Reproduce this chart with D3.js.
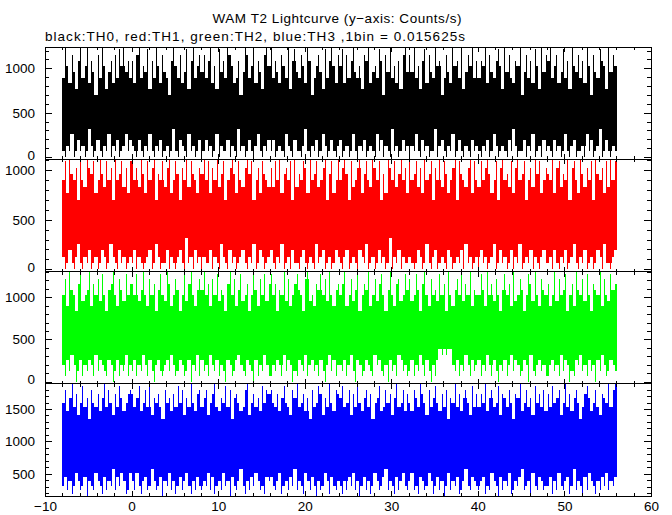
<!DOCTYPE html>
<html><head><meta charset="utf-8">
<script src="https://cdn.jsdelivr.net/npm/d3@7"></script>
<style>
html,body{margin:0;padding:0;background:#fff;}
text{font-family:"Liberation Sans",Arial,Helvetica,sans-serif;}
</style></head>
<body><svg id="c" width="672" height="515"></svg>
<script>
// Light curve envelopes: max / min counts per 1/64 s bin, in 0.25 s groups
const binSize = 0.015625;      // seconds per bin
const tStart = -8, step = 0.25;
const xTicksMajor = [-10,0,10,20,30,40,50,60];
const titleText = "WAM T2 Lightcurve (y\u2212axis: Counts/s)";
const subText = "black:TH0, red:TH1, green:TH2, blue:TH3 ,1bin = 0.015625s";
const seriesNames = ["TH0","TH1","TH2","TH3"];
const seriesColors = ["#000000","#ff0000","#00ff00","#0000ff"];
const yTickLabels = [[0,500,1000],[0,500,1000],[0,500,1000],[500,1000,1500]];
const yDomains = [[-24.3,1240.3],[-21.8,1109.8],[-25.6,1305.6],[158.7,1889.3]];

const hi1 = [14,20,16,13,18,15,12,17,19,14,16,20,13,17,15,11,18,14,20,16,12,15,17,13,18,14,19,16,20,15,17,14,
17,13,18,20,14,16,15,19,12,17,14,20,16,13,18,15,14,11,17,20,16,14,18,13,15,19,12,17,20,14,16,18,
15,18,14,17,20,13,16,12,19,15,17,14,20,18,16,13,14,17,11,15,20,18,14,16,19,13,17,15,12,18,20,16,
20,14,17,15,13,18,16,14,20,12,17,19,15,14,18,16,13,20,17,11,14,16,18,15,12,19,14,17,20,16,13,18,
16,19,13,18,14,17,20,15,14,16,12,18,17,20,13,15,16,14,19,17,11,18,15,20,14,16,13,17,12,18,20,15,
18,15,20,14,16,12,17,19,13,18,15,14,20,16,17,11,14,18,15,13,20,16,17,14,19,12,15,18,16,20,14,17,
14,17,16,20,13,18,15,14,17,19,16,12,20,15,18,14,13,17,16,20,11,15,18,14,17,13,19,16,12,20,15,18,
17,20,14,16,18,13,15,19,14,17,12,20,16,15,18,14,17,13,20,16,11,18,15,14,19,17,16,12,20,15,18,16];
const lo1 = [1,0,2,1,4,0,1,3,1,2,0,1,5,2,0,1,3,1,0,2,1,4,0,2,1,3,0,1,2,4,1,3,
2,1,0,3,1,0,2,1,4,1,0,2,1,3,0,1,2,0,1,5,1,0,3,2,1,0,4,1,2,0,1,3,
0,1,3,1,2,0,1,4,0,2,1,1,3,0,2,1,0,5,1,2,0,1,3,1,0,2,4,1,0,2,1,3,
1,3,0,1,2,1,0,4,2,1,0,3,1,1,0,2,5,1,0,2,1,3,0,1,4,2,0,1,3,1,0,2,
3,0,1,2,0,1,4,1,0,2,1,3,0,1,2,1,0,4,1,3,0,2,1,0,5,1,2,0,1,3,1,2,
0,2,1,4,1,0,3,1,2,0,1,1,5,0,2,3,1,0,2,1,4,0,1,3,1,0,2,1,0,3,1,2,
1,0,2,1,3,0,1,4,2,0,1,2,1,0,3,1,5,2,0,1,1,3,0,2,1,4,0,1,2,0,3,1,
2,1,0,3,1,2,0,1,4,1,0,2,3,0,1,1,2,0,4,1,3,0,1,2,5,0,1,3,1,0,2,1];

const hi2 = [14,17,12,18,15,14,16,11,17,14,13,18,16,15,17,12,14,18,15,13,17,14,16,11,18,14,15,17,13,16,12,17,
17,14,16,13,18,15,12,17,14,16,18,11,15,14,17,13,16,18,12,14,17,15,11,16,14,18,13,17,15,14,12,16,
15,18,14,17,12,16,14,18,13,15,17,11,14,16,18,15,12,17,14,13,16,18,15,17,11,14,16,12,17,15,14,13,
16,13,17,14,18,12,15,16,14,17,11,18,13,15,14,17,16,12,18,14,15,17,13,14,16,18,11,15,17,12,14,18,
14,16,18,15,11,17,13,14,16,18,12,15,17,14,13,18,16,14,17,11,15,12,18,16,14,17,13,15,18,14,16,12,
18,14,15,17,13,16,12,18,14,15,17,11,16,14,18,13,17,15,12,14,16,18,11,17,15,14,13,16,18,12,17,14,
13,17,14,16,18,15,12,14,17,11,16,18,14,15,13,17,12,16,18,14,15,17,11,14,16,13,18,15,17,12,14,16,
15,14,18,12,16,17,13,15,14,18,11,16,17,14,12,18,15,13,16,14,17,11,18,15,14,16,12,17,13,18,14,17];
const lo2 = [2,0,1,3,1,0,2,4,1,0,2,1,3,0,1,2,0,1,3,2,0,1,4,2,1,0,3,1,2,0,1,2,
1,3,0,2,1,0,1,2,3,0,1,4,2,0,1,1,3,0,2,1,0,2,3,1,0,5,1,2,0,3,1,2,
0,2,1,1,3,0,2,1,0,4,2,1,0,3,1,2,0,1,2,3,1,0,2,1,4,0,1,3,2,0,1,2,
3,1,0,2,1,4,0,1,2,0,3,1,1,0,2,3,1,0,2,1,0,4,1,2,3,0,1,2,0,1,3,2,
1,0,2,3,0,1,2,1,0,3,2,1,4,0,1,2,0,1,3,1,2,0,1,5,0,2,1,3,0,2,1,1,
2,1,0,1,3,2,0,1,4,1,0,2,3,0,1,2,1,0,3,2,0,1,2,1,3,0,4,1,2,0,1,2,
0,3,1,2,0,1,2,4,0,1,3,1,2,0,1,3,0,2,1,4,0,1,2,1,3,0,2,1,0,2,3,1,
1,2,0,3,1,0,2,1,3,0,1,2,4,1,0,2,1,3,0,1,2,0,1,3,2,0,4,1,1,0,2,3];

const hi3 = [16,19,14,21,17,16,13,18,20,15,16,17,21,14,18,16,19,15,20,16,13,17,18,21,16,14,19,17,15,20,16,18,
18,16,20,15,17,21,16,14,19,16,18,13,17,20,16,15,21,18,14,16,19,17,13,16,20,15,18,21,16,14,17,19,
17,21,16,18,14,19,16,20,15,17,16,13,18,21,16,19,14,17,20,15,16,18,13,16,21,17,14,19,16,20,15,18,
20,16,18,13,17,16,21,15,19,14,16,18,20,17,16,13,19,21,15,16,14,18,17,20,16,19,15,21,16,14,17,18,
16,18,21,14,16,19,15,17,20,13,16,18,17,21,14,16,19,15,18,20,16,13,17,21,16,14,18,19,15,16,20,17,
19,15,16,20,17,13,18,21,16,14,19,16,17,15,20,16,18,13,21,16,14,17,19,16,20,15,18,16,21,14,17,16,
16,20,17,14,21,16,18,15,19,16,13,17,20,16,18,14,21,15,16,19,17,13,16,20,18,15,21,16,14,19,17,16,
18,14,16,21,15,19,16,17,20,13,16,18,14,21,17,16,19,15,20,16,13,18,17,16,21,14,19,16,15,20,17,18];
const lo3 = [3,1,4,2,5,3,0,2,4,1,3,2,4,3,1,5,2,4,3,2,1,4,3,0,2,4,1,3,2,5,1,3,
2,4,1,3,2,5,3,1,4,2,0,3,4,2,1,3,4,2,5,3,1,2,4,3,1,2,4,0,3,2,5,1,
4,2,3,1,5,3,2,4,1,3,2,0,4,3,1,2,4,5,3,2,1,4,3,2,0,4,1,3,2,5,3,1,
1,3,2,4,3,1,5,2,4,3,0,2,1,4,3,2,5,1,3,4,2,3,1,4,2,0,3,5,2,4,1,3,
3,2,4,1,3,5,2,0,4,3,1,2,4,3,2,1,5,3,4,2,1,3,0,4,2,3,1,5,4,2,3,1,
2,4,1,3,2,5,3,1,4,2,0,3,1,4,6,5,6,5,6,6,3,2,4,1,3,2,5,3,1,4,2,3,
4,1,3,2,5,3,1,4,2,0,3,2,4,1,3,5,2,4,3,1,2,4,3,0,5,2,1,3,4,2,3,1,
1,3,4,2,3,1,5,2,4,3,0,2,1,4,3,5,2,3,1,4,2,3,0,4,2,5,3,1,2,4,3,2];

const hi4 = [25,28,23,26,30,24,27,22,25,29,24,26,21,28,25,24,27,23,26,30,24,28,25,22,27,24,29,26,23,25,27,28,
27,24,26,29,23,25,28,24,30,22,26,25,27,24,21,28,25,26,23,27,24,29,25,28,22,26,24,30,25,23,27,28,
24,26,28,22,25,27,30,24,23,26,25,29,24,28,21,26,27,25,23,24,28,30,22,25,27,24,26,23,29,25,28,27,
28,25,24,27,23,26,29,25,24,22,28,26,30,24,25,27,23,26,21,28,24,25,29,27,22,26,24,30,25,23,28,27,
26,29,24,25,28,22,27,24,30,25,23,26,28,24,27,21,25,26,29,23,24,28,25,27,22,26,30,24,25,28,23,27,
25,23,28,26,24,30,27,25,22,28,24,26,29,25,23,27,24,28,21,26,25,30,24,27,23,26,28,25,22,29,24,27,
24,27,25,30,23,26,28,24,25,29,22,27,26,24,28,25,21,27,26,30,23,25,28,24,26,22,29,25,27,24,28,23,
27,24,29,25,26,28,22,25,30,24,27,23,26,28,25,21,24,27,29,26,23,25,28,24,22,27,26,25,30,24,28,30];
const lo4 = [5,7,4,6,3,5,8,6,4,5,7,2,6,5,4,8,6,5,3,7,4,6,5,9,4,7,5,8,6,3,4,8,
6,4,8,5,3,6,7,4,5,9,6,4,5,7,2,6,5,8,4,6,3,5,7,4,6,8,5,3,6,4,7,5,
4,6,5,8,4,7,3,5,6,4,8,5,6,2,7,5,4,6,9,5,3,6,4,7,5,8,6,4,5,3,7,6,
7,5,4,6,8,3,5,6,4,7,5,9,4,6,5,3,8,6,4,7,5,2,6,4,5,8,6,3,7,5,4,6,
5,3,6,4,7,5,8,4,6,2,5,7,4,6,3,5,8,6,4,5,7,9,4,6,5,3,7,4,6,8,5,4,
6,8,4,5,3,7,6,4,5,8,6,3,5,7,4,6,2,5,8,4,6,5,7,3,4,6,9,5,4,7,6,5,
4,6,7,3,5,4,8,6,5,2,7,4,6,5,8,3,4,6,5,7,9,4,5,6,3,8,5,4,7,6,4,5,
5,7,3,6,4,8,5,4,6,7,3,5,9,4,6,5,2,7,4,8,6,5,3,6,4,7,5,8,4,6,5,7];

const his = [hi1,hi2,hi3,hi4], los = [lo1,lo2,lo3,lo4];

const svg = d3.select("#c");
const L = 45, R = 651, TOP = 47, BOT = 496;
const ph = (BOT - TOP) / 4;
const x = d3.scaleLinear().domain([-10, 60]).range([L, R]);
const FONT = 13.5;

svg.append("text").attr("x", 337).attr("y", 23).attr("text-anchor", "middle")
  .attr("font-size", FONT).attr("textLength", 249).text(titleText);
svg.append("text").attr("x", 45).attr("y", 41)
  .attr("font-size", FONT).attr("textLength", 420).text(subText);

const xMinor = d3.range(-10, 61, 2).filter(v => v % 10 !== 0);

seriesNames.forEach((name, p) => {
  const y0 = TOP + p * ph, y1 = y0 + ph;
  const y = d3.scaleLinear().domain(yDomains[p]).range([y1, y0]);
  const g = svg.append("g");
  const cid = "clip" + p;
  svg.append("clipPath").attr("id", cid).append("rect")
    .attr("x", L).attr("y", y0).attr("width", R - L).attr("height", ph);
  const dg = g.append("g").attr("clip-path", `url(#${cid})`).attr("shape-rendering", "crispEdges");
  const hi = his[p].map(c => c / binSize), lo = los[p].map(c => c / binSize);
  const pts = hi.map((h, i) => ({t: tStart + step * (i + 0.5), h, l: lo[i]}));
  const col = seriesColors[p];
  const band = [];
  band.push({a: tStart, b: pts[0].t, h: pts[0].h, l: pts[0].l});
  for (let i = 0; i < pts.length - 1; i++) {
    band.push({a: pts[i].t, b: pts[i + 1].t,
      h: Math.min(pts[i].h, pts[i + 1].h), l: Math.max(pts[i].l, pts[i + 1].l)});
  }
  const last = pts[pts.length - 1];
  band.push({a: last.t, b: tStart + step * pts.length, h: last.h, l: last.l});
  dg.selectAll("rect.b").data(band).join("rect").attr("class", "b")
    .attr("x", d => x(d.a)).attr("width", d => x(d.b) - x(d.a) + 0.6)
    .attr("y", d => y(d.h)).attr("height", d => y(d.l) - y(d.h))
    .attr("fill", col);
  dg.selectAll("line.s").data(pts).join("line").attr("class", "s")
    .attr("x1", d => x(d.t)).attr("x2", d => x(d.t))
    .attr("y1", d => y(d.h)).attr("y2", d => y(d.l))
    .attr("stroke", col).attr("stroke-width", 1);

  const dom = yDomains[p];
  const yMinor = d3.range(Math.ceil(dom[0] / 100) * 100, dom[1], 100).filter(v => v % 500 !== 0);
  const yMajor = d3.range(Math.ceil(dom[0] / 500) * 500, dom[1], 500);
  const ax = svg.append("g").attr("shape-rendering", "crispEdges");
  const style = sel => { sel.select(".domain").remove(); sel.selectAll("line").attr("stroke", "#000"); sel.selectAll("text").attr("font-size", FONT).attr("fill", "#000").attr("font-family", '"Liberation Sans",Arial,sans-serif'); };
  const ly = ax.append("g").attr("transform", `translate(${L},0)`)
    .call(d3.axisLeft(y).tickValues(yTickLabels[p]).tickSize(-7).tickPadding(10).tickFormat(d3.format("d"))).call(style);
  ly.selectAll("text").filter(d => d === 0).attr("y", -2);
  ax.append("g").attr("transform", `translate(${L},0)`)
    .call(d3.axisLeft(y).tickValues(yMinor).tickSize(-4).tickFormat("")).call(style);
  ax.append("g").attr("transform", `translate(${R},0)`)
    .call(d3.axisRight(y).tickValues(yMajor).tickSize(-7).tickFormat("")).call(style);
  ax.append("g").attr("transform", `translate(${R},0)`)
    .call(d3.axisRight(y).tickValues(yMinor).tickSize(-4).tickFormat("")).call(style);
  ax.append("g").attr("transform", `translate(0,${y0})`)
    .call(d3.axisTop(x).tickValues(xTicksMajor).tickSize(-5).tickFormat("")).call(style);
  ax.append("g").attr("transform", `translate(0,${y0})`)
    .call(d3.axisTop(x).tickValues(xMinor).tickSize(-3).tickFormat("")).call(style);
  ax.append("g").attr("transform", `translate(0,${y1})`)
    .call(d3.axisBottom(x).tickValues(xTicksMajor).tickSize(-5).tickPadding(5)
      .tickFormat(p === 3 ? d3.format("d") : "")).call(style);
  ax.append("g").attr("transform", `translate(0,${y1})`)
    .call(d3.axisBottom(x).tickValues(xMinor).tickSize(-3).tickFormat("")).call(style);
  ax.append("rect").attr("x", L).attr("y", y0).attr("width", R - L).attr("height", ph)
    .attr("fill", "none").attr("stroke", "#000").attr("stroke-width", 1);
});
</script></body></html>
